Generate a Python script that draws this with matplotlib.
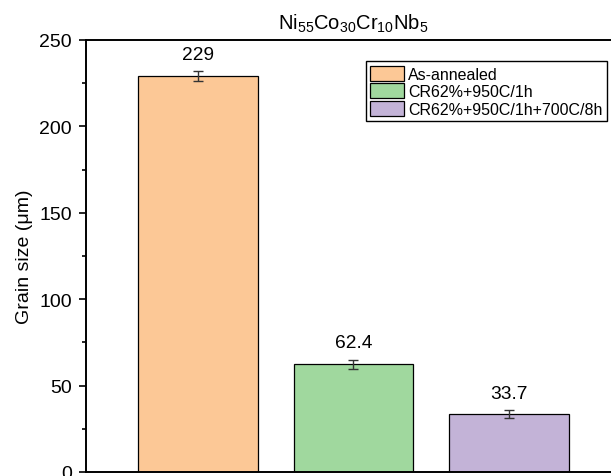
import numpy as np
import matplotlib
matplotlib.use("Agg")
from matplotlib import pyplot as plt

plt.rcParams['font.family'] = ['Liberation Sans', 'DejaVu Sans']
plt.rcParams['mathtext.fontset'] = 'custom'
plt.rcParams['mathtext.rm'] = 'Liberation Sans'
plt.rcParams['mathtext.it'] = 'Liberation Sans'

# data
conditions = ["As-annealed", "CR62%+950C/1h", "CR62%+950C/1h+700C/8h"]
grain_size = [229, 62.4, 33.7]
grain_err = [3.0, 2.6, 2.2]
labels = ["229", "62.4", "33.7"]
colors = ["#FCC896", "#A0D89E", "#C3B3D7"]

fig = plt.figure(figsize=(6.11, 4.77), dpi=100)
ax = fig.add_axes([86/611, 4/477, 535/611, 432/477])

x = np.arange(1, len(grain_size) + 1)
bars = ax.bar(x, grain_size, width=0.77, color=colors, edgecolor="black", linewidth=0.9,
              label=conditions, zorder=2)
ax.errorbar(x, grain_size, yerr=grain_err, fmt="none", ecolor="#333333", elinewidth=1,
            capsize=3.5, capthick=1, zorder=3)

for xi, v, e, t in zip(x, grain_size, grain_err, labels):
    ax.annotate(t, (xi, v + e), xytext=(0, 6), textcoords="offset points",
                ha="center", va="bottom", fontsize=13.8)

ax.set_xlim(0.28, 3.72)
ax.set_ylim(0, 250)
ax.set_yticks(np.arange(0, 251, 50))
ax.set_yticks(np.arange(25, 250, 50), minor=True)
ax.tick_params(axis="y", which="major", direction="out", length=5, width=1.2,
               labelsize=14, pad=5)
ax.tick_params(axis="y", which="minor", direction="out", length=3, width=1.2)
ax.set_xticks([])
for s in ax.spines.values():
    s.set_linewidth(1.4)

ax.set_ylabel("Grain size (\u03bcm)", fontsize=14, labelpad=5)
ax.set_title(r"Ni$_{55}$Co$_{30}$Cr$_{10}$Nb$_{5}$", fontsize=14.5, pad=8)

leg = ax.legend(loc="upper right", bbox_to_anchor=(607/611, 1 - 62/477),
                bbox_transform=fig.transFigure, fontsize=11.5, frameon=True, fancybox=False,
                edgecolor="black", framealpha=1, borderpad=0.3, labelspacing=0.1,
                handlelength=2.1, handleheight=1.05, handletextpad=0.25, borderaxespad=0)
leg.get_frame().set_linewidth(1.0)

fig.savefig("out.png", dpi=100)
